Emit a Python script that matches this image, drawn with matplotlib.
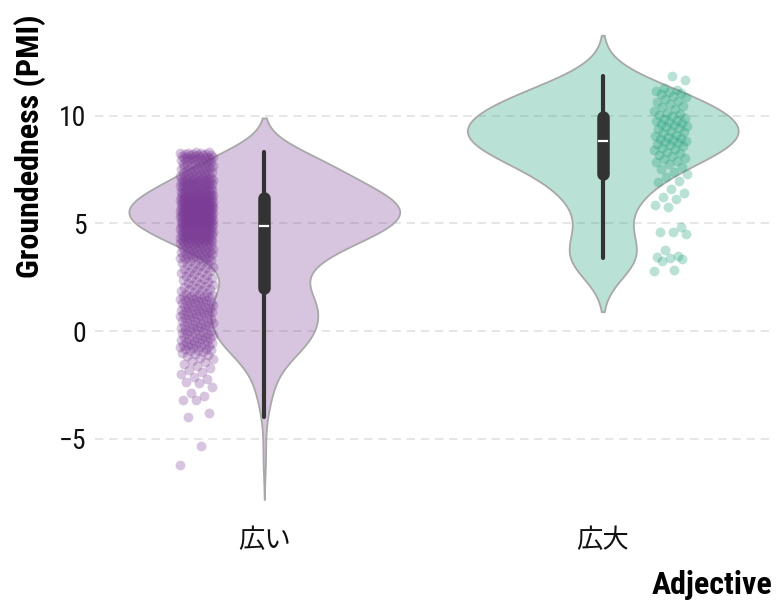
import numpy as np
import matplotlib
matplotlib.use('Agg')
import matplotlib.pyplot as plt
from matplotlib import font_manager

adjectives = ['広い', '広大']
colors = ['#7b3c96', '#1b9e77']

# PMI groundedness values per adjective
hiroi = [
    -6.22, -5.34, -4.01, -3.78, -3.21, -3.18, -3.02, -2.88, -2.61, -2.42,
    -2.35, -2.24, -2.12, -2.01, -1.9, -1.8, -1.7, -1.61, -1.52, -1.44,
    -1.37, -1.3, -1.24, -1.18, -1.12, -1.07, -1.02, -0.98, -0.94, -0.9,
    -0.87, -0.84, -0.82, -0.79, -0.76, -0.74, -0.71, -0.68, -0.66, -0.63,
    -0.6, -0.58, -0.55, -0.52, -0.5, -0.47, -0.44, -0.42, -0.39, -0.36,
    -0.34, -0.31, -0.28, -0.26, -0.23, -0.2, -0.18, -0.15, -0.12, -0.1,
    -0.07, -0.04, -0.02, 0.01, 0.04, 0.06, 0.09, 0.12, 0.14, 0.17,
    0.2, 0.22, 0.25, 0.28, 0.3, 0.33, 0.36, 0.38, 0.41, 0.44,
    0.46, 0.49, 0.52, 0.54, 0.57, 0.6, 0.62,
    0.65, 0.67, 0.7, 0.72, 0.74, 0.77, 0.79, 0.81, 0.84, 0.86,
    0.88, 0.91, 0.93, 0.95, 0.98, 1.0, 1.02, 1.05, 1.07, 1.09,
    1.12, 1.14, 1.16, 1.19, 1.21, 1.23, 1.26, 1.28, 1.3, 1.33,
    1.35, 1.37, 1.4, 1.42, 1.44, 1.47, 1.49, 1.51, 1.54, 1.56,
    1.58, 1.61, 1.63, 1.65, 1.68, 1.7, 1.73,
    1.77, 1.81, 1.85, 1.89, 1.93, 1.97, 2.01, 2.05, 2.09, 2.13,
    2.16, 2.2, 2.24, 2.28, 2.32, 2.36, 2.4, 2.44, 2.48, 2.52, 2.56, 2.6, 2.64, 2.68,
    2.72, 2.76, 2.79, 2.83, 2.87, 2.91, 2.94, 2.98, 3.02, 3.06, 3.09, 3.13, 3.17, 3.21, 3.24, 3.28,
    3.31, 3.33, 3.35, 3.37, 3.39, 3.41, 3.43, 3.45, 3.47, 3.49,
    3.51, 3.53, 3.56, 3.58, 3.6, 3.62, 3.64, 3.66, 3.68, 3.7,
    3.72, 3.74, 3.76, 3.78, 3.8, 3.82, 3.84, 3.86, 3.88, 3.9,
    3.92, 3.94, 3.96, 3.98, 4.0, 4.02, 4.04, 4.06,
    4.09, 4.1, 4.11, 4.12, 4.14, 4.15, 4.16, 4.17, 4.18, 4.2,
    4.21, 4.22, 4.23, 4.24, 4.26, 4.27, 4.28, 4.29, 4.3, 4.32,
    4.33, 4.34, 4.35, 4.36, 4.38, 4.39, 4.4, 4.41, 4.42, 4.44,
    4.45, 4.46, 4.47, 4.48, 4.5, 4.51, 4.52, 4.53, 4.54, 4.56,
    4.57, 4.58, 4.59, 4.6, 4.62, 4.63, 4.64, 4.65, 4.66, 4.68,
    4.69, 4.7, 4.71, 4.72, 4.74, 4.75, 4.76, 4.77, 4.78, 4.8, 4.81, 4.82,
    4.84, 4.85, 4.86, 4.87, 4.88, 4.88, 4.89, 4.9, 4.91, 4.92,
    4.93, 4.94, 4.95, 4.96, 4.97, 4.98, 4.98, 4.99, 5.0, 5.01,
    5.02, 5.03, 5.04, 5.05, 5.06, 5.07, 5.08, 5.08, 5.09, 5.1,
    5.11, 5.12, 5.13, 5.14, 5.15, 5.16, 5.17, 5.18, 5.18, 5.19,
    5.2, 5.21, 5.22, 5.23, 5.24, 5.25, 5.26, 5.27, 5.28, 5.28,
    5.29, 5.3, 5.31, 5.32, 5.33, 5.34, 5.35, 5.36, 5.37, 5.38,
    5.38, 5.39, 5.4, 5.41, 5.42, 5.43, 5.44, 5.45, 5.46, 5.47,
    5.48, 5.48, 5.49, 5.5, 5.51, 5.52, 5.53, 5.54, 5.55, 5.56,
    5.57, 5.58, 5.58, 5.59,
    5.6, 5.61, 5.62, 5.63, 5.64, 5.65, 5.66, 5.67, 5.68, 5.68,
    5.69, 5.7, 5.71, 5.72, 5.73, 5.74, 5.75, 5.76, 5.77, 5.78,
    5.78, 5.79, 5.8, 5.81, 5.82, 5.83, 5.84, 5.85, 5.86, 5.87,
    5.88, 5.88, 5.89, 5.9, 5.91, 5.92, 5.93, 5.94, 5.95, 5.96,
    5.97, 5.98, 5.98, 5.99, 6.0, 6.01, 6.02, 6.03, 6.04, 6.05,
    6.06, 6.07, 6.08, 6.09, 6.1, 6.11, 6.12, 6.13, 6.14, 6.15,
    6.16, 6.17, 6.18, 6.19, 6.2, 6.21, 6.22, 6.23, 6.24, 6.25,
    6.26, 6.27, 6.28, 6.29, 6.3, 6.31, 6.32, 6.33, 6.34, 6.35,
    6.36, 6.37, 6.38, 6.39,
    6.41, 6.42, 6.43, 6.45, 6.46, 6.47, 6.49, 6.5, 6.51, 6.53,
    6.54, 6.55, 6.57, 6.58, 6.59, 6.61, 6.62, 6.64, 6.65, 6.66,
    6.68, 6.69, 6.7, 6.72, 6.73, 6.74, 6.76, 6.77, 6.78, 6.8,
    6.81, 6.82, 6.84, 6.85, 6.86, 6.88, 6.89, 6.91, 6.92, 6.93,
    6.95, 6.96, 6.97, 6.99, 7.0, 7.01, 7.03, 7.04, 7.05, 7.07,
    7.08, 7.09, 7.11, 7.12, 7.14,
    7.16, 7.18, 7.2, 7.22, 7.24, 7.26, 7.29, 7.31, 7.33, 7.35,
    7.37, 7.39, 7.41, 7.43, 7.45, 7.48, 7.5, 7.52, 7.54, 7.56,
    7.58, 7.6, 7.62, 7.64, 7.67, 7.69, 7.71, 7.73, 7.75, 7.77,
    7.79, 7.81, 7.83, 7.86, 7.88, 7.9, 7.92,
    7.94, 7.95, 7.97, 7.98, 8.0, 8.01, 8.03, 8.04, 8.06, 8.07,
    8.09, 8.1, 8.12, 8.13, 8.15, 8.16, 8.18, 8.19, 8.21, 8.22,
    8.24, 8.25, 8.27, 8.28, 8.29, 8.3,
]

koudai = [
    2.8, 2.83, 3.25, 3.35, 3.4, 3.45, 3.5, 3.75, 4.5, 4.58, 4.6, 4.85, 5.75, 5.85, 6.15, 6.2, 6.4, 6.6, 6.9, 6.95, 7.15,
    7.28, 7.4, 7.52, 7.63, 7.74,
    7.84, 7.91, 7.98, 8.05, 8.12, 8.19, 8.26, 8.33, 8.4, 8.46, 8.52,
    8.57, 8.62, 8.67, 8.72, 8.77, 8.82, 8.87, 8.92, 8.97, 9.02, 9.07, 9.12, 9.18, 9.24, 9.3, 9.36,
    9.41, 9.46, 9.51, 9.56, 9.61, 9.66, 9.71, 9.76, 9.81, 9.86, 9.91, 9.96, 10.01, 10.06,
    10.14, 10.22, 10.3, 10.38, 10.46, 10.54, 10.62, 10.7, 10.78, 10.86,
    10.93, 10.99, 11.05, 11.1, 11.15, 11.2, 11.26,
    11.65, 11.83,
]

groups = [hiroi, koudai]
yticks = [-5, 0, 5, 10]

names = {f.name for f in font_manager.fontManager.ttflist}
base_font = 'Roboto Condensed' if 'Roboto Condensed' in names else 'Roboto'
plt.rcParams['font.family'] = [base_font, 'DejaVu Sans']

fig = plt.figure(figsize=(7.77, 6), dpi=100)
ax = fig.add_axes([0.1223, 0.1333, 0.8713, 0.8417])

point_side = [-0.2, 0.2]  # where the jittered points sit

for i, (vals, col) in enumerate(zip(groups, colors)):
    pos = i + 1
    v = np.array(vals)
    # scott bandwidth, violin extended 2 bandwidths past the data
    bw = v.std(ddof=1) * len(v) ** -0.2
    grid = np.linspace(v.min() - 2 * bw, v.max() + 2 * bw, 600)
    dens = np.exp(-0.5 * ((grid[:, None] - v[None, :]) / bw) ** 2).sum(axis=1)
    hw = dens / dens.max() * 0.4
    ax.fill_betweenx(grid, pos - hw, pos + hw, facecolor=matplotlib.colors.to_rgba(col, 0.3),
                     edgecolor='#a8a8a8', lw=1.3, zorder=2)

    # jittered points
    jit = ((np.arange(len(v)) * 0.6180339) % 1 - 0.5) * 0.1
    ax.scatter(pos + point_side[i] + jit, v, s=50, color=col, alpha=0.3, lw=0, zorder=3)

    # box: whiskers, iqr, median
    q1, med, q3 = np.percentile(v, [25, 50, 75])
    iqr = q3 - q1
    lo = v[v >= q1 - 1.5 * iqr].min()
    hi = v[v <= q3 + 1.5 * iqr].max()
    ax.plot([pos, pos], [lo, hi], color='#333333', lw=3, solid_capstyle='round', zorder=4)
    ax.plot([pos, pos], [q1, q3], color='#333333', lw=9, solid_capstyle='round', zorder=5)
    ax.plot([pos - 0.012, pos + 0.012], [med, med], color='white', lw=1.6, zorder=6)

ax.set_xlim(0.5, 2.5)
ax.set_ylim(-8.77, 14.67)
ax.set_xticks([1, 2])
ax.set_xticklabels(adjectives, fontsize=19, family=['Noto Sans CJK JP', 'DejaVu Sans'])
ax.set_yticks(yticks)
ax.set_yticklabels([str(t).replace('-', '\u2212') for t in yticks], fontsize=20)
ax.tick_params(length=0, colors='#111111')
ax.tick_params(axis='y', pad=6)
ax.tick_params(axis='x', pad=5)

for s in ax.spines.values():
    s.set_visible(False)
ax.yaxis.grid(True, color='#e2e2e2', lw=1.2, linestyle=(0, (5, 3.5)))
ax.xaxis.grid(False)
ax.set_axisbelow(True)

ax.set_ylabel('Groundedness (PMI)', fontsize=23, fontweight='bold', loc='top')
ax.yaxis.set_label_coords(-0.072, 1.0)
ax.set_xlabel('Adjective', fontsize=23, fontweight='bold', loc='right')
ax.xaxis.set_label_coords(1.0, -0.098)

fig.savefig('out.png', dpi=100)
